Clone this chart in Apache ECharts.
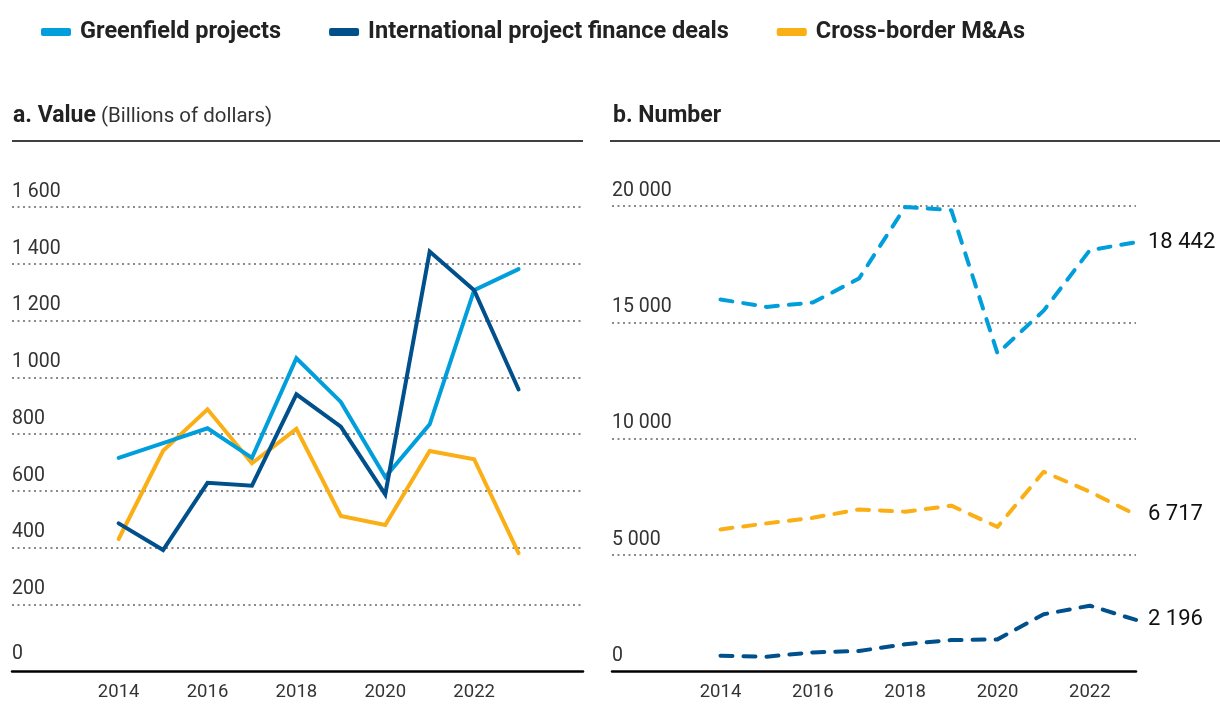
<!DOCTYPE html>
<html>
<head>
<meta charset="utf-8">
<script src="https://cdn.jsdelivr.net/npm/echarts@6/dist/echarts.min.js"></script>
<style>
  html, body { margin: 0; padding: 0; background: #fff; }
  #chart { width: 1220px; height: 706px; }
</style>
</head>
<body>
<div id="chart"></div>
<script>
var years = [2014, 2015, 2016, 2017, 2018, 2019, 2020, 2021, 2022, 2023];
var yearTicks = [2014, 2016, 2018, 2020, 2022];
var seriesNames = ['Greenfield projects', 'International project finance deals', 'Cross-border M&As'];
var colors = ['#009edb', '#00508c', '#fbaf17'];

// a. Value (billions of dollars)
var valueGreenfield = [716, 768, 820, 716, 1067, 913, 648, 834, 1307, 1381];
var valueFinance    = [485, 391, 628, 618, 940, 826, 587, 1443, 1307, 957];
var valueMA         = [430, 741, 887, 697, 818, 511, 479, 740, 711, 380];

// b. Number
var numGreenfield = [15980, 15660, 15850, 16880, 19960, 19820, 13660, 15500, 18100, 18442];
var numMA         = [6090, 6350, 6590, 6950, 6850, 7110, 6200, 8570, 7710, 6717];
var numFinance    = [660, 615, 800, 860, 1150, 1330, 1360, 2440, 2810, 2196];

var font = 'Roboto';

function fmt(v) {
  return String(v).replace(/\B(?=(\d{3})+(?!\d))/g, ' ');
}
function pairs(vals) {
  return years.map(function(y, i) { return [y, vals[i]]; });
}

var chart = echarts.init(document.getElementById('chart'));

var gridLine = { show: true, showMinLine: false, lineStyle: { color: '#8a8a8a', width: 2, type: [2, 3.5] } };

function xAxisOf(idx, min, max, offset) {
  return {
    type: 'value', gridIndex: idx, min: min, max: max, offset: offset,
    axisLine: { show: true, onZero: false, lineStyle: { color: '#000', width: 2.5 } },
    axisTick: { show: false },
    splitLine: { show: false },
    axisLabel: { customValues: yearTicks, formatter: function(v) { return String(v); },
      fontFamily: font, fontSize: 18.5, color: '#333', margin: 12 }
  };
}
function yAxisOf(idx, max, interval, lowZero) {
  return {
    type: 'value', gridIndex: idx, min: 0, max: max, interval: interval,
    axisLine: { show: false }, axisTick: { show: false },
    splitLine: gridLine,
    axisLabel: { inside: true, align: 'left', verticalAlign: 'bottom', margin: 0,
      padding: [0, 0, 5, 0], fontFamily: font, fontSize: 19.5, color: '#333',
      formatter: function(v) { return (lowZero && v === 0) ? '{z|0}' : fmt(v); },
      rich: { z: { fontFamily: font, fontSize: 19.5, color: '#333', lineHeight: 4 } } }
  };
}

var series = [];
var valueSets = [valueGreenfield, valueFinance, valueMA];
var numSets = [numGreenfield, numFinance, numMA];
[2, 0, 1].forEach(function(k) {
  series.push({
    name: seriesNames[k], type: 'line', xAxisIndex: 0, yAxisIndex: 0,
    data: pairs(valueSets[k]), symbol: 'none', silent: true,
    lineStyle: { color: colors[k], width: 4, cap: 'round', join: 'miter' },
    itemStyle: { color: colors[k] }
  });
});
[0, 2, 1].forEach(function(k) {
  series.push({
    name: seriesNames[k], type: 'line', xAxisIndex: 1, yAxisIndex: 1,
    data: pairs(numSets[k]), symbol: 'none', silent: true,
    lineStyle: { color: colors[k], width: 4, type: [12, 11], cap: 'round', join: 'round' },
    itemStyle: { color: colors[k] },
    endLabel: { show: true, distance: 12, fontFamily: font, fontSize: 22, color: '#111',
      formatter: function(p) { return fmt(p.value[1]); } }
  });
});

chart.setOption({
  animation: false,
  color: colors,
  legend: {
    data: seriesNames, left: 36, top: 15, icon: 'roundRect',
    itemWidth: 30, itemHeight: 8, itemGap: 48,
    textStyle: { fontFamily: font, fontSize: 23.5, fontWeight: 'bold', color: '#222', padding: [0, 0, 0, 4] }
  },
  title: [
    { text: '{b|a. Value} {n|(Billions of dollars)}', left: 8, top: 100,
      textStyle: { rich: {
        b: { fontFamily: font, fontSize: 23, fontWeight: 'bold', color: '#222' },
        n: { fontFamily: font, fontSize: 20.5, fontWeight: 'normal', color: '#333' } } } },
    { text: 'b. Number', left: 608, top: 100,
      textStyle: { fontFamily: font, fontSize: 23, fontWeight: 'bold', color: '#222' } }
  ],
  graphic: [
    { type: 'line', shape: { x1: 12, y1: 141, x2: 583, y2: 141 }, style: { stroke: '#000', lineWidth: 1.5 } },
    { type: 'line', shape: { x1: 610, y1: 141, x2: 1220, y2: 141 }, style: { stroke: '#000', lineWidth: 1.5 } }
  ],
  grid: [
    { left: 12, right: 637, top: 207, bottom: 45 },
    { left: 612, right: 84, top: 206, bottom: 35 }
  ],
  xAxis: [xAxisOf(0, 2011.6, 2024.45, 10), xAxisOf(1, 2011.65, 2023, 0)],
  yAxis: [yAxisOf(0, 1600, 200, true), yAxisOf(1, 20000, 5000, false)],
  series: series
});
</script>
</body>
</html>
